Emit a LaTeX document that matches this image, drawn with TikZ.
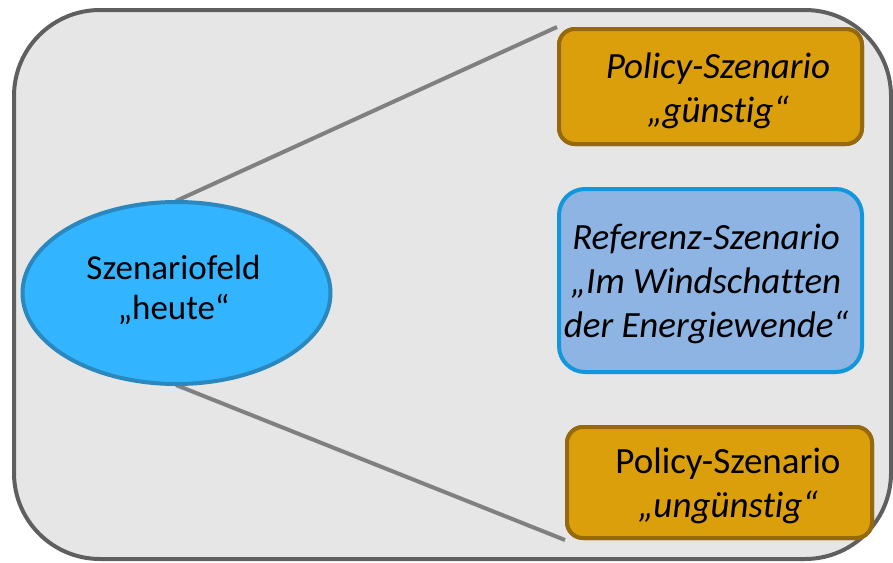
\documentclass[tikz,border=0pt]{standalone}
\usepackage{fontspec}
\setmainfont{Carlito}[Ligatures=NoCommon]
\usetikzlibrary{shapes.geometric}
\definecolor{outerfill}{HTML}{E6E6E6}
\definecolor{outerline}{HTML}{5F5F5F}
\definecolor{goldfill}{HTML}{DA9F0B}
\definecolor{goldline}{HTML}{95690C}
\definecolor{bluefill}{HTML}{8EB4E3}
\definecolor{blueline}{HTML}{1296DC}
\definecolor{ellfill}{HTML}{33B4FF}
\definecolor{ellline}{HTML}{2A88BE}
\definecolor{connline}{HTML}{808080}
\tikzset{
  txt/.style={font=\fontsize{37}{44}\selectfont, align=center, text=black},
  elltxt/.style={font=\fontsize{35}{40}\selectfont, align=center, text=black},
  goldbox/.style={draw=goldline, fill=goldfill, line width=4pt, rounded corners=16pt, inner sep=0pt},
  bluebox/.style={draw=blueline, fill=bluefill, line width=4pt, rounded corners=26pt, inner sep=0pt},
  conn/.style={draw=connline, line width=4pt},
}
\begin{document}
\begin{tikzpicture}[x=1pt,y=-1pt]
\useasboundingbox (0,0) rectangle (893,562);
\draw[outerline, fill=outerfill, line width=4pt, rounded corners=86pt] (14,10) rectangle (891,559);
\coordinate (ellTop) at (176,201);
\coordinate (ellBot) at (176,385);
\node[goldbox, minimum width=303pt, minimum height=115pt] (good) at (710.5,86.5) {};
\node[goldbox, minimum width=305pt, minimum height=111pt] (bad) at (719.5,482.5) {};
\draw[conn] (ellTop) -- (good.north west);
\draw[conn] (ellBot) -- (bad.south west);
\node[goldbox, minimum width=303pt, minimum height=115pt] at (good) {};
\node[goldbox, minimum width=305pt, minimum height=111pt] at (bad) {};
\node[txt] (goodtxt) at (718,90.5) {\itshape Policy-Szenario\\\itshape „günstig“};
\node[txt] (badtxt) at (728,485.5) {Policy-Szenario\\\itshape „ungünstig“};
\node[bluebox, minimum width=303pt, minimum height=183pt] (ref) at (710.5,280.5) {};
\node[txt] (reftxt) at (706,284) {\itshape Referenz-Szenario\\\itshape „Im Windschatten\\\itshape der Energiewende“};
\node[ellipse, draw=ellline, fill=ellfill, line width=4pt, minimum width=308pt, minimum height=182pt, inner sep=0pt] (field) at (176.5,293) {};
\node[elltxt] (fieldtxt) at (173.5,290) {Szenariofeld\\„heute“};
\end{tikzpicture}
\end{document}
